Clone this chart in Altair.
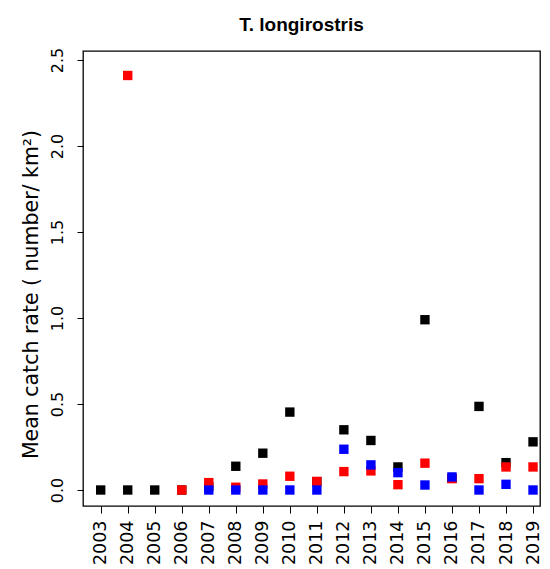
import altair as alt
import pandas as pd

years = list(range(2003, 2020))
black_vals = [0.0, 0.0, 0.0, 0.0, 0.02, 0.138, 0.214, 0.453, 0.048, 0.35, 0.288, 0.134, 0.99, 0.068, 0.486, 0.159, 0.28]
red_vals = [None, 2.41, None, 0.0, 0.043, 0.016, 0.035, 0.08, 0.05, 0.107, 0.111, 0.031, 0.156, 0.066, 0.066, 0.134, 0.134]
blue_vals = [None, None, None, None, 0.0, 0.0, 0.0, 0.0, 0.0, 0.237, 0.146, 0.101, 0.029, 0.076, 0.0, 0.033, 0.0]

series = ["black", "red", "blue"]
colors = ["#000000", "#FF0000", "#0000FF"]
y_ticks = [0.0, 0.5, 1.0, 1.5, 2.0, 2.5]

rows = []
for order, (name, vals) in enumerate(zip(series, [black_vals, red_vals, blue_vals])):
    for yr, v in zip(years, vals):
        if v is not None:
            rows.append({"year": yr, "value": v, "series": name, "ord": order})
df = pd.DataFrame(rows)

W = 457
H = 455
PX_PER_YEAR = 27.02
x_lo = 2003 - 17.7 / PX_PER_YEAR
x_hi = x_lo + W / PX_PER_YEAR

chart = alt.Chart(df).mark_square(size=88, opacity=1).encode(
    x=alt.X("year:Q",
            scale=alt.Scale(domain=[x_lo, x_hi], nice=False, zero=False),
            axis=alt.Axis(values=years, format="d", title=None, grid=False, domain=False,
                          tickSize=7, tickColor="black", tickWidth=1,
                          labelAngle=270, labelAlign="right", labelBaseline="middle",
                          labelPadding=7, labelFont="DejaVu Sans", labelFontSize=17.5,
                          labelColor="black", labelOverlap=False)),
    y=alt.Y("value:Q",
            scale=alt.Scale(domain=[-0.093, 2.5523], nice=False, zero=False),
            axis=alt.Axis(values=y_ticks, format=".1f", grid=False, domain=False,
                          tickSize=6, tickColor="black", tickWidth=1,
                          labelAngle=270, labelAlign="center", labelBaseline="alphabetic",
                          labelPadding=15, labelFont="DejaVu Sans", labelFontSize=16,
                          labelColor="black", labelOverlap=False,
                          title="Mean catch rate ( number/ km²)",
                          titleFont="DejaVu Sans", titleFontSize=20.5, titleFontWeight="normal",
                          titleColor="black", titleAngle=270, titleAlign="center",
                          titleBaseline="bottom", titlePadding=8, titleY=243)),
    color=alt.Color("series:N", scale=alt.Scale(domain=series, range=colors), legend=None),
    order=alt.Order("ord:Q"),
).properties(
    width=W,
    height=H,
    autosize=alt.AutoSizeParams(type="none"),
    padding={"left": 75, "top": 43, "right": 2, "bottom": 60},
    title=alt.TitleParams("T. longirostris", font="Liberation Sans", fontSize=19,
                          fontWeight="bold", color="black", anchor="middle",
                          frame="group", offset=12, dx=-10),
).configure(
    background="white"
).configure_view(
    stroke="black", strokeWidth=1.3, fill="white"
)

chart.save("out.html", embed_options={"renderer": "svg", "actions": False})
